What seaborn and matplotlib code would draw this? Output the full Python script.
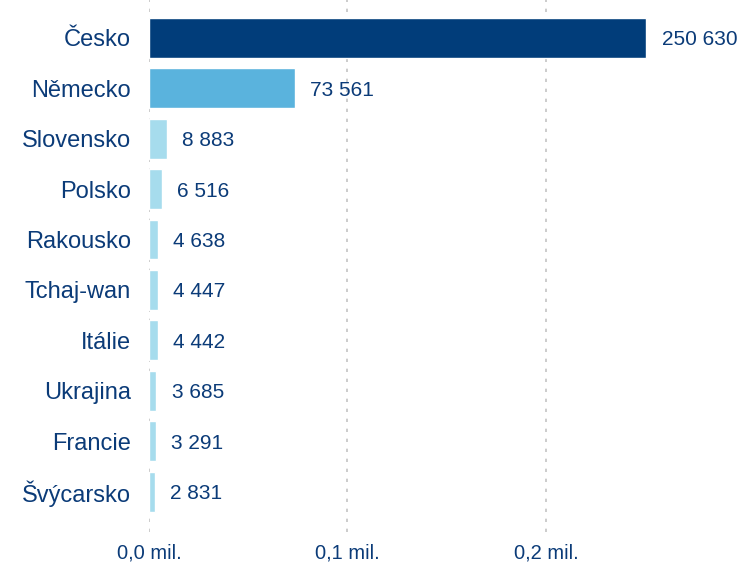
import matplotlib
matplotlib.use("Agg")
import matplotlib.pyplot as plt
from matplotlib.ticker import FuncFormatter
import seaborn as sns
import pandas as pd

# Data
countries = ["Česko", "Německo", "Slovensko", "Polsko", "Rakousko",
             "Tchaj-wan", "Itálie", "Ukrajina", "Francie", "Švýcarsko"]
values = [250630, 73561, 8883, 6516, 4638, 4447, 4442, 3685, 3291, 2831]
bar_colors = ["#013d7a", "#5ab3dd"] + ["#a6dced"] * 8

text_color = "#0b3b78"

df = pd.DataFrame({"country": countries, "value": values})

sns.set_style("white")
plt.rcParams["font.family"] = ["Liberation Sans", "DejaVu Sans"]

fig = plt.figure(figsize=(7.4, 5.69), dpi=100)
ax = fig.add_axes([149 / 740, 1 - 532 / 569, (728 - 149) / 740, 532 / 569])

sns.barplot(data=df, x="value", y="country", hue="country",
            palette=bar_colors, legend=False, width=0.79,
            saturation=1, ax=ax, zorder=3)

# Value labels with space as thousands separator
for i, v in enumerate(values):
    ax.annotate(f"{v:,}".replace(",", " "), xy=(v, i), xytext=(11, 0),
                textcoords="offset points", va="center_baseline", ha="left",
                fontsize=15, color=text_color)

ax.set_xlim(0, 0.2917e6)
ax.set_ylim(9.8, -0.75)
ax.set_xticks([0, 100000, 200000])
ax.xaxis.set_major_formatter(
    FuncFormatter(lambda x, pos: f"{x / 1e6:.1f}".replace(".", ",") + " mil."))

ax.grid(axis="x", color="#c4c4c4", linestyle=(0, (2, 4)), linewidth=1.2, zorder=0)
ax.grid(axis="y", visible=False)
for s in ax.spines.values():
    s.set_visible(False)

ax.tick_params(axis="both", length=0)
ax.tick_params(axis="y", pad=13, labelsize=17, labelcolor=text_color)
ax.tick_params(axis="x", pad=8, labelsize=14.5, labelcolor=text_color)
ax.set_xlabel("")
ax.set_ylabel("")

fig.savefig("out.png", dpi=100)
